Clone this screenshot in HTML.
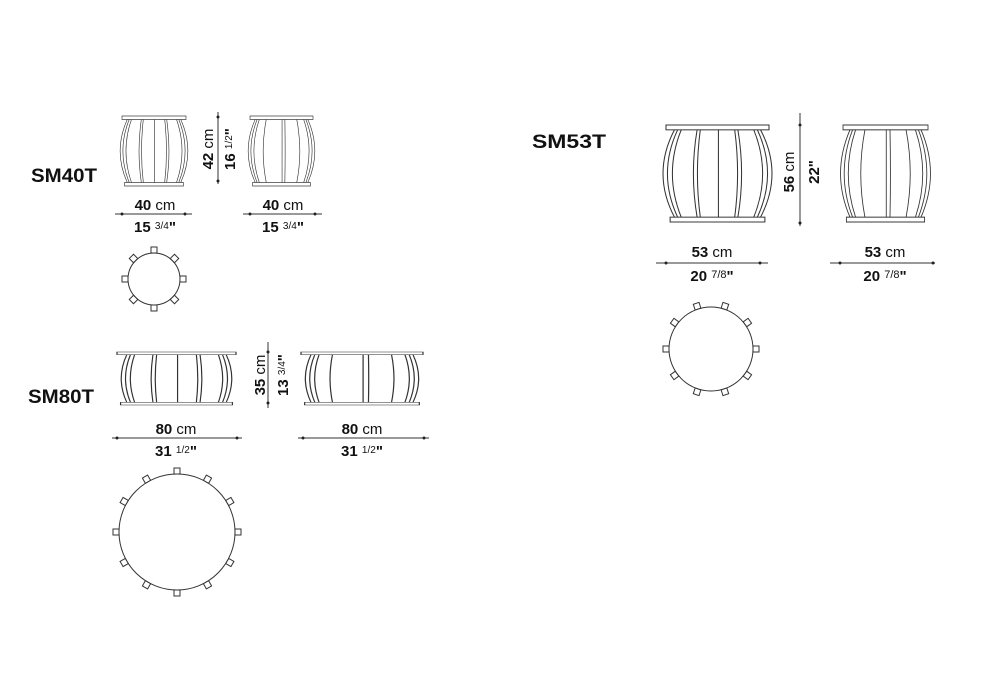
<!DOCTYPE html>
<html><head><meta charset="utf-8">
<style>
html,body{margin:0;padding:0;background:#fff;}
svg{display:block;font-family:"Liberation Sans",Arial,sans-serif;}
.t{font-size:15px;fill:#111;}
.b{font-weight:bold;}
.lab{font-size:19px;font-weight:bold;fill:#111;}
.d{fill:none;stroke:#333;stroke-width:1;}
.d *{vector-effect:non-scaling-stroke;}
.dot{fill:#222;stroke:none;}
</style></head>
<body>
<svg width="1000" height="700" viewBox="0 0 1000 700" xmlns="http://www.w3.org/2000/svg">
<defs>
<g id="bf">
<rect x="0" y="0" width="100" height="5"/><rect x="4" y="95" width="92" height="5"/>
<path d="M8.2 5 Q-14 50 8.2 95 M91.8 5 Q114 50 91.8 95 M11.3 5 Q-8.5 50 11.3 95 M88.7 5 Q108.5 50 88.7 95 M14.8 5 Q-2.4 50 14.8 95 M85.2 5 Q102.4 50 85.2 95 M30.2 5 Q23 50 30.2 95 M69.8 5 Q77 50 69.8 95 M33.3 5 Q27.7 50 33.3 95 M66.7 5 Q72.3 50 66.7 95 M50.9 5 L50.9 95"/>
</g>
<g id="bs">
<rect x="0" y="0" width="100" height="5"/><rect x="4" y="95" width="92" height="5"/>
<path d="M8.2 5 Q-14 50 8.2 95 M91.8 5 Q114 50 91.8 95 M11.3 5 Q-8.5 50 11.3 95 M88.7 5 Q108.5 50 88.7 95 M14.8 5 Q-2.4 50 14.8 95 M85.2 5 Q102.4 50 85.2 95 M25.8 5 Q16 50 25.8 95 M74.2 5 Q84 50 74.2 95 M50.9 5 L50.9 95 M55.3 5 Q56.3 50 55.3 95"/>
</g>
<g id="wf">
<rect x="0" y="0" width="100" height="5"/><rect x="3" y="95" width="94" height="5"/>
<path d="M8.2 5 Q-1.1 50 8.2 95 M91.8 5 Q101.1 50 91.8 95 M11.3 5 Q3 50 11.3 95 M88.7 5 Q97 50 88.7 95 M14.8 5 Q7.6 50 14.8 95 M85.2 5 Q92.4 50 85.2 95 M30.2 5 Q27.2 50 30.2 95 M69.8 5 Q72.8 50 69.8 95 M33.3 5 Q31 50 33.3 95 M66.7 5 Q69 50 66.7 95 M50.9 5 L50.9 95"/>
</g>
<g id="ws">
<rect x="0" y="0" width="100" height="5"/><rect x="3" y="95" width="94" height="5"/>
<path d="M8.2 5 Q-1.1 50 8.2 95 M91.8 5 Q101.1 50 91.8 95 M11.3 5 Q3 50 11.3 95 M88.7 5 Q97 50 88.7 95 M14.8 5 Q7.6 50 14.8 95 M85.2 5 Q92.4 50 85.2 95 M25.8 5 Q21.8 50 25.8 95 M74.2 5 Q78.2 50 74.2 95 M50.9 5 L50.9 95 M55.3 5 Q55.7 50 55.3 95"/>
</g>
<rect id="sq" x="-3" y="-3" width="6" height="6" fill="#fff"/>
</defs>

<g class="d">
<use href="#bf" transform="translate(122,116) scale(0.64,0.7)"/>
<use href="#bs" transform="translate(250,116) scale(0.63,0.7)"/>
<use href="#wf" transform="translate(117,352) scale(1.19,0.53)"/>
<use href="#ws" transform="translate(301,352) scale(1.22,0.53)"/>
<use href="#bf" transform="translate(666,125) scale(1.03,0.97)"/>
<use href="#bs" transform="translate(843,125) scale(0.85,0.97)"/>

<!-- dim lines -->
<line x1="115" y1="214" x2="192" y2="214"/><line x1="243" y1="214" x2="322" y2="214"/>
<line x1="218" y1="112" x2="218" y2="184"/>
<line x1="112" y1="438" x2="242" y2="438"/><line x1="298" y1="438" x2="429" y2="438"/>
<line x1="268" y1="342" x2="268" y2="408"/>
<line x1="656" y1="263" x2="768" y2="263"/><line x1="830" y1="263" x2="935" y2="263"/>
<line x1="800" y1="113" x2="800" y2="226"/>

<!-- top views -->
<circle cx="154" cy="279" r="26"/>
<g transform="translate(154,279)">
<use href="#sq" transform="rotate(0) translate(0,-29)"/><use href="#sq" transform="rotate(45) translate(0,-29)"/>
<use href="#sq" transform="rotate(90) translate(0,-29)"/><use href="#sq" transform="rotate(135) translate(0,-29)"/>
<use href="#sq" transform="rotate(180) translate(0,-29)"/><use href="#sq" transform="rotate(225) translate(0,-29)"/>
<use href="#sq" transform="rotate(270) translate(0,-29)"/><use href="#sq" transform="rotate(315) translate(0,-29)"/>
</g>
<circle cx="177" cy="532" r="58"/>
<g transform="translate(177,532)">
<use href="#sq" transform="rotate(0) translate(0,-61)"/><use href="#sq" transform="rotate(30) translate(0,-61)"/>
<use href="#sq" transform="rotate(60) translate(0,-61)"/><use href="#sq" transform="rotate(90) translate(0,-61)"/>
<use href="#sq" transform="rotate(120) translate(0,-61)"/><use href="#sq" transform="rotate(150) translate(0,-61)"/>
<use href="#sq" transform="rotate(180) translate(0,-61)"/><use href="#sq" transform="rotate(210) translate(0,-61)"/>
<use href="#sq" transform="rotate(240) translate(0,-61)"/><use href="#sq" transform="rotate(270) translate(0,-61)"/>
<use href="#sq" transform="rotate(300) translate(0,-61)"/><use href="#sq" transform="rotate(330) translate(0,-61)"/>
</g>
<circle cx="711" cy="349" r="42"/>
<g transform="translate(711,349)">
<use href="#sq" transform="rotate(18) translate(0,-45)"/><use href="#sq" transform="rotate(54) translate(0,-45)"/>
<use href="#sq" transform="rotate(90) translate(0,-45)"/><use href="#sq" transform="rotate(126) translate(0,-45)"/>
<use href="#sq" transform="rotate(162) translate(0,-45)"/><use href="#sq" transform="rotate(198) translate(0,-45)"/>
<use href="#sq" transform="rotate(234) translate(0,-45)"/><use href="#sq" transform="rotate(270) translate(0,-45)"/>
<use href="#sq" transform="rotate(306) translate(0,-45)"/><use href="#sq" transform="rotate(342) translate(0,-45)"/>
</g>
</g>

<g class="dot">
<circle cx="122" cy="214" r="1.5"/><circle cx="185" cy="214" r="1.5"/>
<circle cx="250" cy="214" r="1.5"/><circle cx="315" cy="214" r="1.5"/>
<circle cx="218" cy="117" r="1.5"/><circle cx="218" cy="181" r="1.5"/>
<circle cx="117" cy="438" r="1.5"/><circle cx="237" cy="438" r="1.5"/>
<circle cx="303" cy="438" r="1.5"/><circle cx="424" cy="438" r="1.5"/>
<circle cx="268" cy="352" r="1.5"/><circle cx="268" cy="403" r="1.5"/>
<circle cx="666" cy="263" r="1.5"/><circle cx="760" cy="263" r="1.5"/>
<circle cx="840" cy="263" r="1.5"/><circle cx="933" cy="263" r="1.5"/>
<circle cx="800" cy="125" r="1.5"/><circle cx="800" cy="223" r="1.5"/>
</g>

<text class="lab" x="31" y="182" textLength="66" lengthAdjust="spacingAndGlyphs">SM40T</text>
<text class="lab" x="28" y="403" textLength="66" lengthAdjust="spacingAndGlyphs">SM80T</text>
<text class="lab" x="532" y="148" textLength="74" lengthAdjust="spacingAndGlyphs">SM53T</text>

<text class="t" x="155" y="210" text-anchor="middle"><tspan class="b">40</tspan> cm</text>
<text class="t b" x="155" y="232" text-anchor="middle">15 <tspan font-size="10" font-weight="normal" dy="-3">3/4</tspan><tspan dy="3">"</tspan></text>
<text class="t" x="283" y="210" text-anchor="middle"><tspan class="b">40</tspan> cm</text>
<text class="t b" x="283" y="232" text-anchor="middle">15 <tspan font-size="10" font-weight="normal" dy="-3">3/4</tspan><tspan dy="3">"</tspan></text>
<text class="t" transform="translate(213,149) rotate(-90)" text-anchor="middle"><tspan class="b">42</tspan> cm</text>
<text class="t b" transform="translate(235,149) rotate(-90)" text-anchor="middle">16 <tspan font-size="10" font-weight="normal" dy="-3">1/2</tspan><tspan dy="3">"</tspan></text>

<text class="t" x="176" y="434" text-anchor="middle"><tspan class="b">80</tspan> cm</text>
<text class="t b" x="176" y="456" text-anchor="middle">31 <tspan font-size="10" font-weight="normal" dy="-3">1/2</tspan><tspan dy="3">"</tspan></text>
<text class="t" x="362" y="434" text-anchor="middle"><tspan class="b">80</tspan> cm</text>
<text class="t b" x="362" y="456" text-anchor="middle">31 <tspan font-size="10" font-weight="normal" dy="-3">1/2</tspan><tspan dy="3">"</tspan></text>
<text class="t" transform="translate(265,375) rotate(-90)" text-anchor="middle"><tspan class="b">35</tspan> cm</text>
<text class="t b" transform="translate(288,375) rotate(-90)" text-anchor="middle">13 <tspan font-size="10" font-weight="normal" dy="-3">3/4</tspan><tspan dy="3">"</tspan></text>

<text class="t" x="712" y="257" text-anchor="middle" font-size="17"><tspan class="b">53</tspan> cm</text>
<text class="t b" x="712" y="281" text-anchor="middle" font-size="17">20 <tspan font-size="11" font-weight="normal" dy="-3">7/8</tspan><tspan dy="3">"</tspan></text>
<text class="t" x="885" y="257" text-anchor="middle" font-size="17"><tspan class="b">53</tspan> cm</text>
<text class="t b" x="885" y="281" text-anchor="middle" font-size="17">20 <tspan font-size="11" font-weight="normal" dy="-3">7/8</tspan><tspan dy="3">"</tspan></text>
<text class="t" font-size="18" transform="translate(794,172) rotate(-90)" text-anchor="middle"><tspan class="b">56</tspan> cm</text>
<text class="t b" font-size="18" transform="translate(819,172) rotate(-90)" text-anchor="middle">22"</text>
</svg>
</body></html>
